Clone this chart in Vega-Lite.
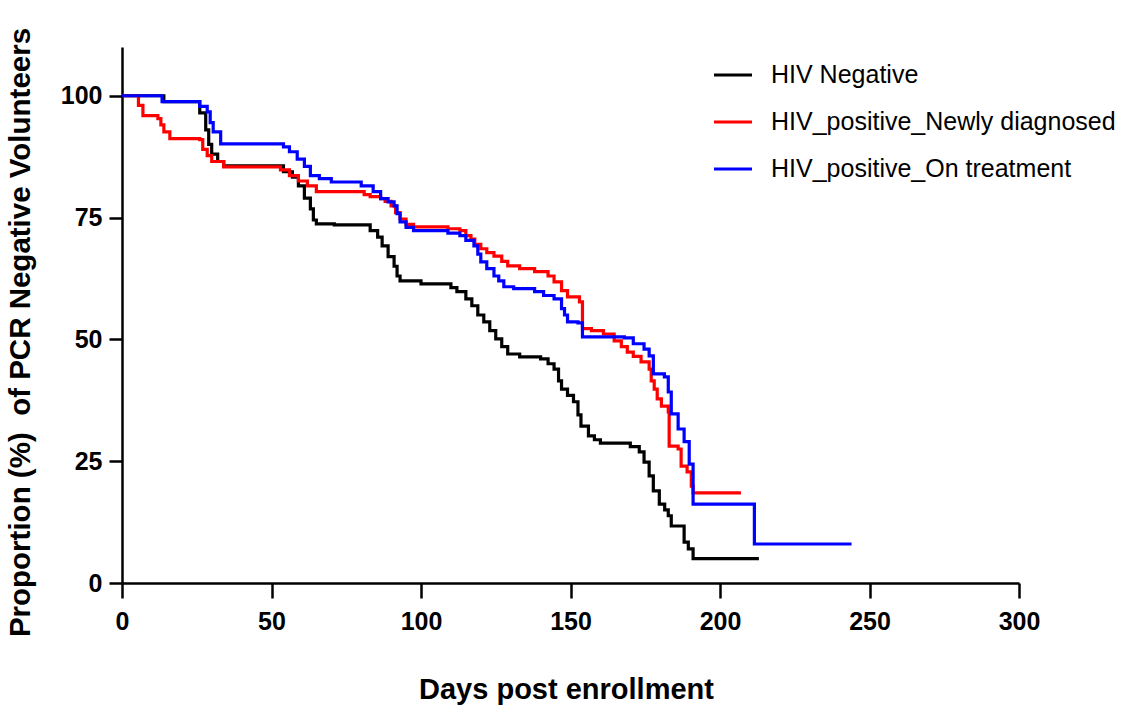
{
  "$schema": "https://vega.github.io/schema/vega-lite/v6.json",
  "width": 897,
  "height": 536,
  "autosize": "none",
  "padding": {"left": 122, "top": 47, "right": 103, "bottom": 126},
  "background": "white",
  "data": {
    "values": [
      {"g": "HIV Negative", "d": 0, "p": 100},
      {"g": "HIV Negative", "d": 14, "p": 98.8},
      {"g": "HIV Negative", "d": 26, "p": 96.5},
      {"g": "HIV Negative", "d": 28, "p": 93},
      {"g": "HIV Negative", "d": 29, "p": 90},
      {"g": "HIV Negative", "d": 30, "p": 88},
      {"g": "HIV Negative", "d": 32, "p": 86.5},
      {"g": "HIV Negative", "d": 34, "p": 85.6},
      {"g": "HIV Negative", "d": 54, "p": 84.4},
      {"g": "HIV Negative", "d": 57, "p": 83.3},
      {"g": "HIV Negative", "d": 59, "p": 81.5},
      {"g": "HIV Negative", "d": 61, "p": 79},
      {"g": "HIV Negative", "d": 63, "p": 76.8},
      {"g": "HIV Negative", "d": 64, "p": 74.5},
      {"g": "HIV Negative", "d": 65, "p": 73.7},
      {"g": "HIV Negative", "d": 71, "p": 73.5},
      {"g": "HIV Negative", "d": 83, "p": 72.3},
      {"g": "HIV Negative", "d": 85.5, "p": 71},
      {"g": "HIV Negative", "d": 87, "p": 69.2},
      {"g": "HIV Negative", "d": 89, "p": 67},
      {"g": "HIV Negative", "d": 91, "p": 65},
      {"g": "HIV Negative", "d": 92, "p": 63},
      {"g": "HIV Negative", "d": 93, "p": 62},
      {"g": "HIV Negative", "d": 100, "p": 61.4},
      {"g": "HIV Negative", "d": 110, "p": 60.6},
      {"g": "HIV Negative", "d": 112, "p": 59.8},
      {"g": "HIV Negative", "d": 115, "p": 58.3},
      {"g": "HIV Negative", "d": 117, "p": 56.9},
      {"g": "HIV Negative", "d": 119, "p": 55},
      {"g": "HIV Negative", "d": 121, "p": 53.6},
      {"g": "HIV Negative", "d": 123, "p": 51.8},
      {"g": "HIV Negative", "d": 125, "p": 50.1},
      {"g": "HIV Negative", "d": 127, "p": 48.5},
      {"g": "HIV Negative", "d": 129, "p": 47},
      {"g": "HIV Negative", "d": 133, "p": 46.4},
      {"g": "HIV Negative", "d": 140, "p": 46},
      {"g": "HIV Negative", "d": 142.5, "p": 45},
      {"g": "HIV Negative", "d": 144.5, "p": 43.9},
      {"g": "HIV Negative", "d": 146, "p": 41.5},
      {"g": "HIV Negative", "d": 147, "p": 39.8},
      {"g": "HIV Negative", "d": 149, "p": 38.5},
      {"g": "HIV Negative", "d": 151, "p": 37.2},
      {"g": "HIV Negative", "d": 152.5, "p": 34.5},
      {"g": "HIV Negative", "d": 153.5, "p": 32.2},
      {"g": "HIV Negative", "d": 156, "p": 30.2},
      {"g": "HIV Negative", "d": 158, "p": 29.4},
      {"g": "HIV Negative", "d": 160, "p": 28.7},
      {"g": "HIV Negative", "d": 170, "p": 28},
      {"g": "HIV Negative", "d": 173, "p": 26.9},
      {"g": "HIV Negative", "d": 174.6, "p": 24.8},
      {"g": "HIV Negative", "d": 176.3, "p": 22},
      {"g": "HIV Negative", "d": 177.7, "p": 18.9},
      {"g": "HIV Negative", "d": 179.7, "p": 16.2},
      {"g": "HIV Negative", "d": 181.5, "p": 15},
      {"g": "HIV Negative", "d": 182.7, "p": 13.8},
      {"g": "HIV Negative", "d": 183.7, "p": 11.7},
      {"g": "HIV Negative", "d": 188, "p": 8.4},
      {"g": "HIV Negative", "d": 189.4, "p": 7},
      {"g": "HIV Negative", "d": 191, "p": 5},
      {"g": "HIV Negative", "d": 213, "p": 5},

      {"g": "HIV_positive_Newly diagnosed", "d": 0, "p": 100},
      {"g": "HIV_positive_Newly diagnosed", "d": 5.5, "p": 98},
      {"g": "HIV_positive_Newly diagnosed", "d": 7, "p": 95.9},
      {"g": "HIV_positive_Newly diagnosed", "d": 12, "p": 95.3},
      {"g": "HIV_positive_Newly diagnosed", "d": 13, "p": 94},
      {"g": "HIV_positive_Newly diagnosed", "d": 14, "p": 92.6},
      {"g": "HIV_positive_Newly diagnosed", "d": 16, "p": 91.2},
      {"g": "HIV_positive_Newly diagnosed", "d": 26, "p": 91},
      {"g": "HIV_positive_Newly diagnosed", "d": 27, "p": 89},
      {"g": "HIV_positive_Newly diagnosed", "d": 28.5, "p": 87.7},
      {"g": "HIV_positive_Newly diagnosed", "d": 30, "p": 86.5},
      {"g": "HIV_positive_Newly diagnosed", "d": 34, "p": 85.4},
      {"g": "HIV_positive_Newly diagnosed", "d": 53, "p": 84.8},
      {"g": "HIV_positive_Newly diagnosed", "d": 56, "p": 83.6},
      {"g": "HIV_positive_Newly diagnosed", "d": 59, "p": 82.5},
      {"g": "HIV_positive_Newly diagnosed", "d": 62, "p": 81.5},
      {"g": "HIV_positive_Newly diagnosed", "d": 65, "p": 80.3},
      {"g": "HIV_positive_Newly diagnosed", "d": 81, "p": 79.7},
      {"g": "HIV_positive_Newly diagnosed", "d": 83, "p": 79.3},
      {"g": "HIV_positive_Newly diagnosed", "d": 86.5, "p": 78.9},
      {"g": "HIV_positive_Newly diagnosed", "d": 88, "p": 78.3},
      {"g": "HIV_positive_Newly diagnosed", "d": 90, "p": 77.4},
      {"g": "HIV_positive_Newly diagnosed", "d": 91.5, "p": 76},
      {"g": "HIV_positive_Newly diagnosed", "d": 93, "p": 74.7},
      {"g": "HIV_positive_Newly diagnosed", "d": 95, "p": 73.6},
      {"g": "HIV_positive_Newly diagnosed", "d": 97.5, "p": 73.1},
      {"g": "HIV_positive_Newly diagnosed", "d": 109, "p": 72.7},
      {"g": "HIV_positive_Newly diagnosed", "d": 113, "p": 72.3},
      {"g": "HIV_positive_Newly diagnosed", "d": 115, "p": 71.3},
      {"g": "HIV_positive_Newly diagnosed", "d": 116.7, "p": 70.6},
      {"g": "HIV_positive_Newly diagnosed", "d": 118, "p": 69.5},
      {"g": "HIV_positive_Newly diagnosed", "d": 120, "p": 68.6},
      {"g": "HIV_positive_Newly diagnosed", "d": 122, "p": 67.8},
      {"g": "HIV_positive_Newly diagnosed", "d": 124.4, "p": 67.1},
      {"g": "HIV_positive_Newly diagnosed", "d": 127, "p": 66},
      {"g": "HIV_positive_Newly diagnosed", "d": 129, "p": 65.1},
      {"g": "HIV_positive_Newly diagnosed", "d": 133, "p": 64.5},
      {"g": "HIV_positive_Newly diagnosed", "d": 138, "p": 63.9},
      {"g": "HIV_positive_Newly diagnosed", "d": 142.5, "p": 63},
      {"g": "HIV_positive_Newly diagnosed", "d": 144.5, "p": 61.8},
      {"g": "HIV_positive_Newly diagnosed", "d": 147, "p": 60},
      {"g": "HIV_positive_Newly diagnosed", "d": 149, "p": 58.7},
      {"g": "HIV_positive_Newly diagnosed", "d": 153, "p": 57.7},
      {"g": "HIV_positive_Newly diagnosed", "d": 154, "p": 52.2},
      {"g": "HIV_positive_Newly diagnosed", "d": 157, "p": 51.8},
      {"g": "HIV_positive_Newly diagnosed", "d": 161, "p": 51.1},
      {"g": "HIV_positive_Newly diagnosed", "d": 164.6, "p": 49.7},
      {"g": "HIV_positive_Newly diagnosed", "d": 167, "p": 48.5},
      {"g": "HIV_positive_Newly diagnosed", "d": 169, "p": 47.4},
      {"g": "HIV_positive_Newly diagnosed", "d": 171, "p": 46.5},
      {"g": "HIV_positive_Newly diagnosed", "d": 173.6, "p": 45.4},
      {"g": "HIV_positive_Newly diagnosed", "d": 176.3, "p": 43.9},
      {"g": "HIV_positive_Newly diagnosed", "d": 177, "p": 41.5},
      {"g": "HIV_positive_Newly diagnosed", "d": 178, "p": 39.8},
      {"g": "HIV_positive_Newly diagnosed", "d": 179, "p": 37.8},
      {"g": "HIV_positive_Newly diagnosed", "d": 180.4, "p": 36.3},
      {"g": "HIV_positive_Newly diagnosed", "d": 182.7, "p": 35.1},
      {"g": "HIV_positive_Newly diagnosed", "d": 183, "p": 28.1},
      {"g": "HIV_positive_Newly diagnosed", "d": 186, "p": 27.5},
      {"g": "HIV_positive_Newly diagnosed", "d": 187, "p": 24},
      {"g": "HIV_positive_Newly diagnosed", "d": 189, "p": 22.8},
      {"g": "HIV_positive_Newly diagnosed", "d": 190.4, "p": 19.9},
      {"g": "HIV_positive_Newly diagnosed", "d": 191, "p": 18.5},
      {"g": "HIV_positive_Newly diagnosed", "d": 207, "p": 18.5},

      {"g": "HIV_positive_On treatment", "d": 0, "p": 100},
      {"g": "HIV_positive_On treatment", "d": 13.4, "p": 98.8},
      {"g": "HIV_positive_On treatment", "d": 26, "p": 97.8},
      {"g": "HIV_positive_On treatment", "d": 28.5, "p": 96.7},
      {"g": "HIV_positive_On treatment", "d": 29.5, "p": 94.5},
      {"g": "HIV_positive_On treatment", "d": 30.5, "p": 92.6},
      {"g": "HIV_positive_On treatment", "d": 33, "p": 90.1},
      {"g": "HIV_positive_On treatment", "d": 54, "p": 89.5},
      {"g": "HIV_positive_On treatment", "d": 56, "p": 88.5},
      {"g": "HIV_positive_On treatment", "d": 58.6, "p": 87},
      {"g": "HIV_positive_On treatment", "d": 61, "p": 85.5},
      {"g": "HIV_positive_On treatment", "d": 63, "p": 83.6},
      {"g": "HIV_positive_On treatment", "d": 66, "p": 83},
      {"g": "HIV_positive_On treatment", "d": 70, "p": 82.3},
      {"g": "HIV_positive_On treatment", "d": 80, "p": 81.5},
      {"g": "HIV_positive_On treatment", "d": 84, "p": 80.3},
      {"g": "HIV_positive_On treatment", "d": 86.5, "p": 78.9},
      {"g": "HIV_positive_On treatment", "d": 89, "p": 78.2},
      {"g": "HIV_positive_On treatment", "d": 91, "p": 77.4},
      {"g": "HIV_positive_On treatment", "d": 92, "p": 75.8},
      {"g": "HIV_positive_On treatment", "d": 93, "p": 74.1},
      {"g": "HIV_positive_On treatment", "d": 95, "p": 73},
      {"g": "HIV_positive_On treatment", "d": 97.5, "p": 72.3},
      {"g": "HIV_positive_On treatment", "d": 109, "p": 71.8},
      {"g": "HIV_positive_On treatment", "d": 113, "p": 71.3},
      {"g": "HIV_positive_On treatment", "d": 115, "p": 70.3},
      {"g": "HIV_positive_On treatment", "d": 117.7, "p": 69.2},
      {"g": "HIV_positive_On treatment", "d": 119, "p": 67.5},
      {"g": "HIV_positive_On treatment", "d": 120, "p": 65.9},
      {"g": "HIV_positive_On treatment", "d": 122, "p": 64.5},
      {"g": "HIV_positive_On treatment", "d": 124.4, "p": 63},
      {"g": "HIV_positive_On treatment", "d": 126, "p": 62},
      {"g": "HIV_positive_On treatment", "d": 127.7, "p": 60.8},
      {"g": "HIV_positive_On treatment", "d": 131, "p": 60.4},
      {"g": "HIV_positive_On treatment", "d": 138, "p": 59.8},
      {"g": "HIV_positive_On treatment", "d": 141, "p": 59},
      {"g": "HIV_positive_On treatment", "d": 144.5, "p": 58.3},
      {"g": "HIV_positive_On treatment", "d": 147, "p": 56.3},
      {"g": "HIV_positive_On treatment", "d": 148, "p": 55},
      {"g": "HIV_positive_On treatment", "d": 149, "p": 53.6},
      {"g": "HIV_positive_On treatment", "d": 152.5, "p": 53.4},
      {"g": "HIV_positive_On treatment", "d": 154, "p": 50.5},
      {"g": "HIV_positive_On treatment", "d": 168, "p": 50.3},
      {"g": "HIV_positive_On treatment", "d": 171, "p": 49.1},
      {"g": "HIV_positive_On treatment", "d": 174.6, "p": 48},
      {"g": "HIV_positive_On treatment", "d": 176.3, "p": 46.6},
      {"g": "HIV_positive_On treatment", "d": 177.7, "p": 42.9},
      {"g": "HIV_positive_On treatment", "d": 181.4, "p": 42.3},
      {"g": "HIV_positive_On treatment", "d": 182.7, "p": 39.2},
      {"g": "HIV_positive_On treatment", "d": 183.7, "p": 34.7},
      {"g": "HIV_positive_On treatment", "d": 186, "p": 31.6},
      {"g": "HIV_positive_On treatment", "d": 188, "p": 29},
      {"g": "HIV_positive_On treatment", "d": 189.7, "p": 24.4},
      {"g": "HIV_positive_On treatment", "d": 191, "p": 16.2},
      {"g": "HIV_positive_On treatment", "d": 211.5, "p": 8},
      {"g": "HIV_positive_On treatment", "d": 244, "p": 8}
    ]
  },
  "mark": {"type": "line", "interpolate": "step-after", "strokeWidth": 3.2},
  "encoding": {
    "x": {
      "field": "d",
      "type": "quantitative",
      "title": "Days post enrollment",
      "scale": {"domain": [0, 300], "nice": false},
      "axis": {
        "values": [0, 50, 100, 150, 200, 250, 300],
        "tickSize": 15,
        "labelPadding": 11,
        "titleFontSize": 29,
        "titleBaseline": "alphabetic",
        "titleX": 444,
        "titleY": 115
      }
    },
    "y": {
      "field": "p",
      "type": "quantitative",
      "title": "Proportion (%)\u00a0 of PCR Negative Volunteers",
      "scale": {"domain": [0, 110], "nice": false},
      "axis": {
        "values": [0, 25, 50, 75, 100],
        "tickSize": 13,
        "labelPadding": 7,
        "titleFontSize": 29.5,
        "titleBaseline": "alphabetic",
        "titleX": -93,
        "titleY": 285
      }
    },
    "color": {
      "field": "g",
      "type": "nominal",
      "title": null,
      "scale": {
        "domain": ["HIV Negative", "HIV_positive_Newly diagnosed", "HIV_positive_On treatment"],
        "range": ["#000000", "#ff0000", "#0000ff"]
      },
      "legend": {
        "orient": "none",
        "legendX": 590,
        "legendY": 7,
        "symbolType": "stroke",
        "symbolSize": 1444,
        "symbolStrokeWidth": 3.2,
        "labelFont": "Liberation Sans",
        "labelFontSize": 25,
        "labelColor": "black",
        "labelLimit": 0,
        "labelOffset": 17,
        "rowPadding": 13
      }
    }
  },
  "config": {
    "view": {"stroke": null},
    "axis": {
      "grid": false,
      "labelFlush": false,
      "domainColor": "black",
      "domainWidth": 2.5,
      "tickColor": "black",
      "tickWidth": 2.5,
      "labelFont": "Liberation Sans",
      "labelFontWeight": "bold",
      "labelFontSize": 25,
      "labelColor": "black",
      "titleFont": "Liberation Sans",
      "titleFontWeight": "bold",
      "titleColor": "black"
    }
  }
}
